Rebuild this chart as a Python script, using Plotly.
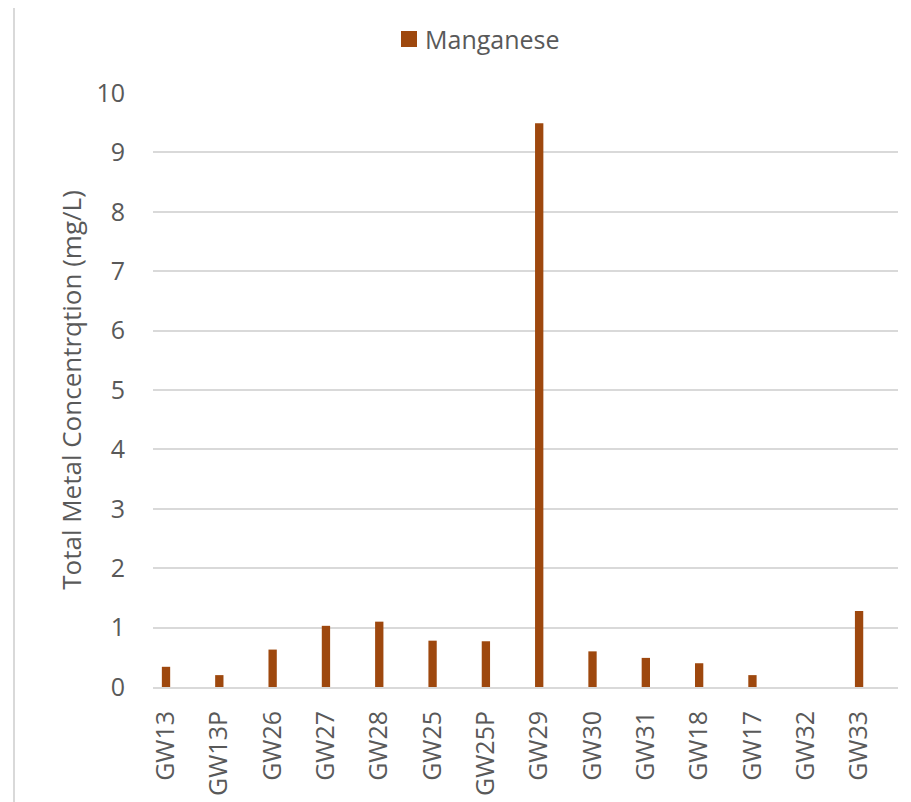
import plotly.graph_objects as go

categories = ["GW13", "GW13P", "GW26", "GW27", "GW28", "GW25", "GW25P",
              "GW29", "GW30", "GW31", "GW18", "GW17", "GW32", "GW33"]
manganese = [0.34, 0.20, 0.63, 1.03, 1.10, 0.78, 0.77,
             9.49, 0.60, 0.49, 0.40, 0.20, 0.0, 1.28]
y_ticks = [0, 1, 2, 3, 4, 5, 6, 7, 8, 9, 10]

BAR = "#9E480E"
GRID = "#D9D9D9"
TXT = "#595959"
FONT = "Open Sans"

OFF = 8  # page body margin offset
W, H = 911 - OFF, 802 - OFF
# target plot area in screen pixels: x 153..898, y 93..687
L, T = 153 - OFF, 93 - OFF
R = W - (898 - OFF)
B = H - (687 - OFF)
pw, ph = W - L - R, H - T - B

def px_x(x):
    return (x - OFF - L) / pw

def px_y(y):
    return 1 + (T - (y - OFF)) / ph

fig = go.Figure()
fig.add_trace(go.Bar(
    x=list(range(len(categories))), y=manganese, width=0.156,
    marker=dict(color=BAR, line=dict(width=0)), showlegend=False,
    name="Manganese",
))

fig.update_layout(
    width=W, height=H, autosize=False,
    margin=dict(l=L, r=R, t=T, b=B, autoexpand=False),
    paper_bgcolor="white", plot_bgcolor="white",
    font=dict(family=FONT, color=TXT, size=25),
    xaxis=dict(
        automargin=False,
        range=[-0.244, 13.73],
        tickmode="array", tickvals=list(range(len(categories))),
        ticktext=categories, tickangle=-90,
        showgrid=False, zeroline=False,
        showline=True, linecolor=GRID, linewidth=2,
        ticks="outside", ticklen=12, tickcolor="rgba(0,0,0,0)",
        tickfont=dict(size=25, color=TXT, family=FONT),
    ),
    yaxis=dict(
        automargin=False,
        range=[0, 10], tickvals=y_ticks,
        showgrid=True, gridcolor=GRID, gridwidth=1.5,
        zeroline=False, showline=False,
        ticks="", ticklabelstandoff=27,
        tickfont=dict(size=25, color=TXT, family=FONT),
        title=dict(text="Total Metal Concentrqtion (mg/L)",
                   font=dict(size=26, color=TXT, family=FONT), standoff=7),
    ),
    shapes=[
        dict(type="line", xref="paper", yref="paper",
             x0=px_x(14), x1=px_x(14), y0=px_y(0), y1=px_y(802 + 5),
             line=dict(color=GRID, width=2)),
        dict(type="line", xref="paper", yref="paper",
             x0=px_x(14), x1=px_x(911 + 5), y0=px_y(1), y1=px_y(1),
             line=dict(color=GRID, width=2)),
        dict(type="rect", xref="paper", yref="paper",
             x0=px_x(401), x1=px_x(417), y0=px_y(47), y1=px_y(31),
             fillcolor=BAR, line=dict(width=0)),
    ],
    annotations=[
        dict(text="Manganese", xref="paper", yref="paper",
             x=px_x(423), y=px_y(39), xanchor="left", yanchor="middle",
             showarrow=False, font=dict(size=25, color=TXT, family=FONT)),
    ],
)

fig.write_html("out.html")
